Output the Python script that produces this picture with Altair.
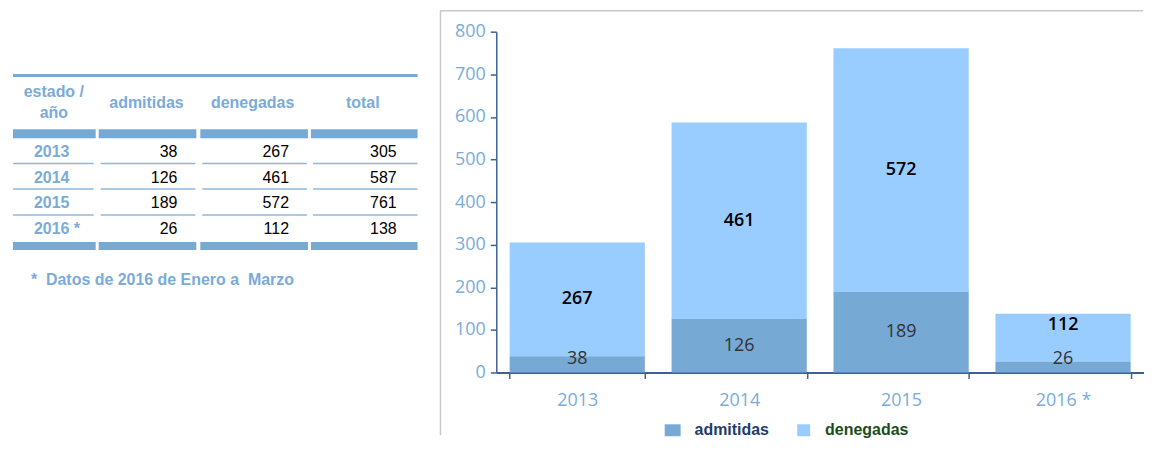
import altair as alt
import pandas as pd

# ---------------- data ----------------
years = ["2013", "2014", "2015", "2016 *"]
admitidas = [38, 126, 189, 26]
denegadas = [267, 461, 572, 112]
totales = [305, 587, 761, 138]
header_cols = ["admitidas", "denegadas", "total"]
header_first = ["estado /", "año"]
footnote = "*\u00a0 Datos de 2016 de Enero a\u00a0 Marzo"
series = ["admitidas", "denegadas"]
y_ticks = [0, 100, 200, 300, 400, 500, 600, 700, 800]

# ---------------- styles ----------------
C_ADM = "#76a9d4"
C_DEN = "#99ccff"
C_LABEL = "#7aabd9"
C_AXIS = "#3d6291"
C_BORDER = "#c8c8c8"
C_LEG = ["#1f3d6b", "#1b4d1b"]
F_CHART = "Open Sans"
F_TAB = "Liberation Sans"
FS_TAB = 16

df = pd.DataFrame({"year": years, "admitidas": admitidas,
                   "denegadas": denegadas, "total": totales})
one = alt.Data(values=[{"k": 0}])

# ---------------- table panel ----------------
TW, TH = 430, 342
row_scale = alt.Scale(type="point", range=[121, 198], padding=0)
ycat = alt.Y("year:N", sort=years, scale=row_scale, axis=None)

layers = []


def hrule(x0, x1, y, w, color=C_ADM):
    return alt.Chart(one).mark_rule(color=color, strokeWidth=w, strokeCap="butt").encode(
        x=alt.value(x0), x2=alt.value(x1), y=alt.value(y))


thick_segs = [(1, 84), (87, 185), (189, 297), (300, 407)]
thin_segs = [(1, 82), (89, 184), (191, 296), (302, 407)]
layers.append(hrule(1, 407, 44, 3))
for a, b in thick_segs:
    layers.append(hrule(a, b, 102.5, 9))
    layers.append(hrule(a, b, 215, 8))
for yy in [132.3, 158, 184]:
    for a, b in thin_segs:
        layers.append(hrule(a, b, yy, 1.5, "#8fb8df"))

hdr_style = dict(font=F_TAB, fontSize=FS_TAB, fontWeight="bold", color=C_LABEL,
                 align="center", baseline="middle")
for t, xx in zip(header_cols, [135, 241.5, 352]):
    layers.append(alt.Chart(pd.DataFrame({"t": [t]})).mark_text(**hdr_style).encode(
        x=alt.value(xx), y=alt.value(72), text="t:N"))
for t, yy in zip(header_first, [61, 82]):
    layers.append(alt.Chart(pd.DataFrame({"t": [t]})).mark_text(**hdr_style).encode(
        x=alt.value(42), y=alt.value(yy), text="t:N"))

tab = alt.Chart(df)
layers.append(tab.mark_text(font=F_TAB, fontSize=FS_TAB, fontWeight="bold", color=C_LABEL,
                            align="left", baseline="middle").encode(
    x=alt.value(22), y=ycat, text="year:N"))
for field, xx in zip(["admitidas", "denegadas", "total"], [166, 278, 386]):
    layers.append(tab.mark_text(font=F_TAB, fontSize=FS_TAB, color="#000000",
                                align="right", baseline="middle").encode(
        x=alt.value(xx), y=ycat, text=f"{field}:Q"))

layers.append(alt.Chart(pd.DataFrame({"t": [footnote]})).mark_text(
    font=F_TAB, fontSize=FS_TAB, fontWeight="bold", color=C_LABEL, align="left",
    baseline="middle").encode(x=alt.value(19), y=alt.value(249), text="t:N"))

table = alt.layer(*layers).properties(width=TW, height=TH)

# ---------------- bar chart panel ----------------
BW, BH = 650, 342
x_enc = alt.X("year:N", sort=years, title=None,
              scale=alt.Scale(paddingInner=0.165, paddingOuter=0.0825),
              axis=alt.Axis(labelAngle=0, tickBand="extent", labelFont=F_CHART,
                            labelFontSize=18, labelColor=C_LABEL, domainColor=C_AXIS,
                            tickColor=C_AXIS, tickSize=6, domainWidth=2, tickWidth=1.5,
                            labelPadding=13))
y_scale = alt.Scale(domain=[0, 800], nice=False)
y_axis = alt.Axis(values=y_ticks, grid=False, labelFont=F_CHART, labelFontSize=18,
                  labelColor=C_LABEL, domainColor=C_AXIS, tickColor=C_AXIS, tickSize=6,
                  domainWidth=1.5, tickWidth=1.5, labelPadding=5)

base = alt.Chart(df).transform_calculate(
    top="datum.admitidas + datum.denegadas",
    ly_adm="max(datum.admitidas / 2, 32)",
).transform_calculate(
    ly_den="max(datum.admitidas + datum.denegadas / 2, datum.ly_adm + 80)")

bar_adm = base.mark_bar(color=C_ADM).encode(
    x=x_enc, y=alt.Y("admitidas:Q", scale=y_scale, axis=y_axis, title=None))
bar_den = base.mark_bar(color=C_DEN).encode(
    x=x_enc, y=alt.Y("admitidas:Q", scale=y_scale, axis=y_axis, title=None), y2="top:Q")
lab_adm = base.mark_text(font=F_CHART, fontSize=18, color="#333333",
                         baseline="middle").encode(
    x=x_enc, y=alt.Y("ly_adm:Q", scale=y_scale, axis=y_axis, title=None),
    text="admitidas:Q")
lab_den = base.mark_text(font=F_CHART, fontSize=18, fontWeight=600, color="#000000",
                         baseline="middle").encode(
    x=x_enc, y=alt.Y("ly_den:Q", scale=y_scale, axis=y_axis, title=None),
    text="denegadas:Q")

border_top = alt.Chart(one).mark_rule(color=C_BORDER, strokeWidth=1.5).encode(
    x=alt.value(-56), x2=alt.value(649), y=alt.value(-21))
border_left = alt.Chart(one).mark_rule(color=C_BORDER, strokeWidth=1.5).encode(
    x=alt.value(-56), y=alt.value(-21), y2=alt.value(405))

leg = []
for name, col, tcol, (a, b), tx in zip(series, [C_ADM, C_DEN], C_LEG,
                                        [(169, 185), (302, 315)], [199, 330]):
    leg.append(alt.Chart(one).mark_rect(color=col).encode(
        x=alt.value(a), x2=alt.value(b), y=alt.value(394), y2=alt.value(406)))
    leg.append(alt.Chart(pd.DataFrame({"t": [name]})).mark_text(
        font=F_TAB, fontSize=FS_TAB, fontWeight="bold", color=tcol, align="left",
        baseline="middle").encode(x=alt.value(tx), y=alt.value(399.5), text="t:N"))

bars = alt.layer(border_top, border_left, bar_den, bar_adm, lab_den, lab_adm, *leg
                 ).properties(width=BW, height=BH)

chart = alt.hconcat(table, bars, spacing=56, bounds="flush").properties(
    padding={"left": 0, "top": 1, "right": 0, "bottom": 0}
).configure_view(strokeWidth=0)

chart.save("out.html", embed_options={"renderer": "svg", "actions": False})
